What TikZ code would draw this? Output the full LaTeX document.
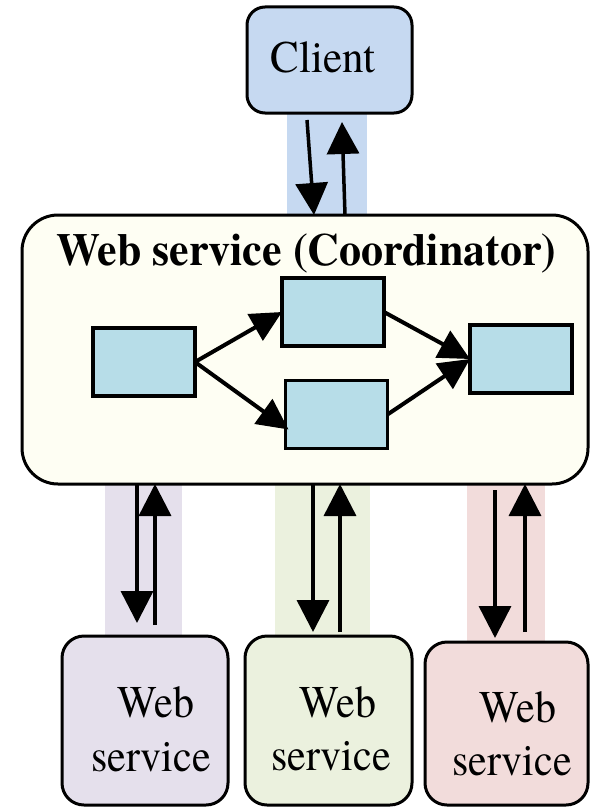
\documentclass[tikz,border=0pt]{standalone}
\usepackage{fontspec}
\setmainfont{texgyretermes-regular.otf}[BoldFont=texgyretermes-bold.otf]
\usetikzlibrary{arrows.meta}

\definecolor{clientblue}{HTML}{C6D9F1}
\definecolor{coordcream}{HTML}{FEFEF3}
\definecolor{taskblue}{HTML}{B7DDE8}
\definecolor{svcpurple}{HTML}{E5E0EC}
\definecolor{svcgreen}{HTML}{EBF1DE}
\definecolor{svcpink}{HTML}{F2DCDB}

\tikzset{
  outline/.style={draw=black, line width=3pt, inner sep=0pt, outer sep=0pt},
  clientbox/.style={outline, fill=clientblue, rounded corners=18pt,
    minimum width=165pt, minimum height=106pt},
  coordbox/.style={outline, fill=coordcream, rounded corners=36pt,
    minimum width=566pt, minimum height=269pt},
  svcbox/.style={outline, rounded corners=22pt, minimum width=166pt},
  taskbox/.style={draw=black, line width=3.5pt, fill=taskblue, inner sep=0pt,
    outer sep=0pt, minimum width=102pt, minimum height=68pt},
  flow/.style={line width=3.5pt, -{Triangle[length=32pt,width=32pt]}},
  inflow/.style={line width=4pt, -{Triangle[length=31pt,width=30pt]}},
  basetext/.style={anchor=base, inner sep=0pt},
  svctext/.style={basetext, font=\fontsize{42}{50}\selectfont},
}

\begin{document}
\begin{tikzpicture}[x=1pt,y=-1pt]
\useasboundingbox (0,0) rectangle (589,808);

% coloured bands behind the message arrows
\fill[clientblue] (287,113) rectangle (367,214);
\fill[svcpurple]  (105,484) rectangle (182,636);
\fill[svcgreen]   (275,484) rectangle (370,636);
\fill[svcpink]    (467,484) rectangle (545,641);

% client
\node[clientbox] (client) at (329.5,60) {};
\node[basetext, font=\fontsize{43}{50}\selectfont] (clientname) at (323,73) {\scalebox{1}[1.05]{Client}};

% coordinating service with its internal workflow
\node[coordbox] (coord) at (305,349.5) {};
\node[basetext, font=\fontsize{44}{52}\selectfont\bfseries] (title) at (306.5,265)
  {\scalebox{1}[1.04]{Web service (Coordinator)}};

\node[taskbox] (b1) at (144,362) {};
\node[taskbox] (b2) at (333,312) {};
\node[taskbox] (b3) at (336.5,414.5) {};
\node[taskbox] (b4) at (521,359) {};

\draw[inflow] (b1.east) -- (b2.west);
\draw[inflow] (b1.east) -- ([xshift=3pt,yshift=-15pt]b3.west);
\draw[inflow] (b2.east) -- (b4.west);
\draw[inflow] (b3.east) -- (b4.west);

% partner services
\node[svcbox, fill=svcpurple, minimum height=169pt] (ws1) at (145,720.5) {};
\node[svcbox, fill=svcgreen, minimum width=167pt, minimum height=169pt] (ws2) at (328.5,720.5) {};
\node[svcbox, fill=svcpink, minimum width=163pt, minimum height=163pt] (ws3) at (506.5,723.5) {};

\node[svctext] (ws1a) at (156,717) {\scalebox{1}[1.08]{Web}};
\node[svctext] (ws1b) at (151,771) {\scalebox{1}[1.08]{service}};
\node[svctext] (ws2a) at (338,717) {\scalebox{1}[1.08]{Web}};
\node[svctext] (ws2b) at (331,770) {\scalebox{1}[1.08]{service}};
\node[svctext] (ws3a) at (518,722) {\scalebox{1}[1.08]{Web}};
\node[svctext] (ws3b) at (512,775) {\scalebox{1}[1.08]{service}};

% client <-> coordinator
\draw[flow] ([xshift=-22.5pt,yshift=-7pt]client.south) -- ([xshift=9pt]coord.north);
\draw[flow] ([xshift=40pt]coord.north) -- ([xshift=12.5pt,yshift=-9pt]client.south);

% coordinator <-> services
\draw[flow] ([xshift=-168pt]coord.south) -- ([xshift=-8pt,yshift=13pt]ws1.north);
\draw[flow] ([xshift=10pt,yshift=11pt]ws1.north) -- ([xshift=-150pt]coord.south);

\draw[flow] ([xshift=8pt]coord.south) -- ([xshift=-15.5pt,yshift=4pt]ws2.north);
\draw[flow] ([xshift=11.5pt,yshift=4pt]ws2.north) -- ([xshift=35pt]coord.south);

\draw[flow] ([xshift=190pt,yshift=-6pt]coord.south) -- ([xshift=-11.5pt,yshift=4pt]ws3.north);
\draw[flow] ([xshift=18.5pt,yshift=10pt]ws3.north) -- ([xshift=220pt]coord.south);
\end{tikzpicture}
\end{document}
